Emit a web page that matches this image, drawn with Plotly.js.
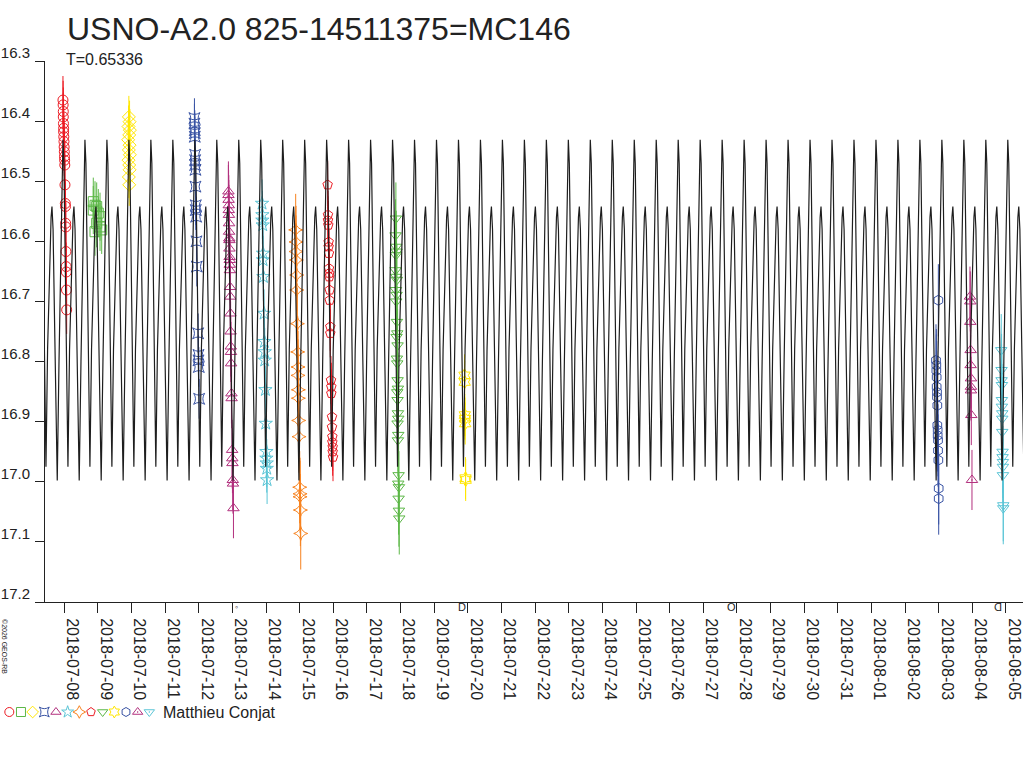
<!DOCTYPE html>
<html><head><meta charset="utf-8">
<script src="https://cdn.plot.ly/plotly-3.0.1.min.js"></script>
<style>html,body{margin:0;padding:0;background:#fff;overflow:hidden}#chart{width:1024px;height:768px}</style>
</head><body><div id="chart"></div>
<script>
// ---- data (x in days since 2018-07-08 00:00 UT) ----
const chartTitle = 'USNO-A2.0 825-14511375=MC146';
const periodLabel = 'T=0.65336';
const observer = 'Matthieu Conjat';
const tickLabels = ['2018-07-08','2018-07-09','2018-07-10','2018-07-11','2018-07-12','2018-07-13','2018-07-14','2018-07-15','2018-07-16','2018-07-17','2018-07-18','2018-07-19','2018-07-20','2018-07-21','2018-07-22','2018-07-23','2018-07-24','2018-07-25','2018-07-26','2018-07-27','2018-07-28','2018-07-29','2018-07-30','2018-07-31','2018-08-01','2018-08-02','2018-08-03','2018-08-04','2018-08-05'];
const magTicks = [16.3,16.4,16.5,16.6,16.7,16.8,16.9,17.0,17.1,17.2];

const period = 0.65336;
const epochMax = -0.04;
const templatePhase = [0.000,0.045,0.100,0.160,0.227,0.300,0.400,0.460,0.500,0.550,0.630,0.700,0.740,0.820,0.900,0.955,1.000];
const templateMag   = [16.431,16.47,16.60,16.78,16.975,16.78,16.62,16.56,16.542,16.58,16.76,16.93,16.998,16.80,16.60,16.47,16.431];

const n1Days = [-0.04,-0.035,-0.03,-0.03,-0.025,-0.02,-0.02,-0.015,-0.01,-0.005,0.0,0.005,0.01,0.015,0.02,0.03,0.035,0.04,0.045,0.05,0.055,0.06,0.065,0.07];
const n1Mags = [16.365,16.373,16.384,16.393,16.404,16.412,16.418,16.426,16.434,16.443,16.451,16.459,16.465,16.473,16.506,16.537,16.542,16.570,16.576,16.617,16.642,16.651,16.681,16.714];
const n2Days = [0.862,0.913,0.862,0.963,1.011,1.062,0.963,1.062,1.112,0.913];
const n2Mags = [16.534,16.54,16.548,16.542,16.553,16.559,16.57,16.576,16.581,16.584];
const n3Days = [1.92,1.94,1.91,1.95,1.93,1.90,1.94,1.92,1.95,1.91,1.93,1.94,1.92,1.93];
const n3Mags = [16.393,16.401,16.409,16.415,16.423,16.431,16.44,16.448,16.456,16.465,16.473,16.481,16.493,16.506];
const n4Days = [3.87,3.87,3.88,3.88,3.88,3.89,3.89,3.89,3.90,3.90,3.91,3.91,3.92,3.93,3.94,3.98,3.99,3.99,4.00,4.01];
const n4Mags = [16.395,16.404,16.415,16.42,16.426,16.456,16.465,16.473,16.481,16.509,16.54,16.548,16.559,16.6,16.642,16.753,16.789,16.798,16.809,16.862];
const n5Days = [4.88,4.88,4.885,4.89,4.89,4.895,4.90,4.90,4.905,4.91,4.91,4.915,4.92,4.92,4.925,4.93,4.935,4.94,4.945,4.95,4.955,4.96,4.97,4.975,4.99,4.995,5.0,5.01,5.015,5.03];
const n5Mags = [16.517,16.523,16.531,16.54,16.548,16.556,16.57,16.584,16.595,16.598,16.612,16.626,16.631,16.639,16.648,16.676,16.692,16.72,16.75,16.775,16.784,16.803,16.853,16.861,16.947,16.961,16.969,16.997,17.003,17.044];
const n6Days = [5.88,5.89,5.89,5.90,5.91,5.91,5.92,5.94,5.95,5.96,5.96,5.98,5.99,6.01,6.01,6.02,6.02,6.03];
const n6Mags = [16.537,16.556,16.565,16.573,16.62,16.631,16.659,16.72,16.767,16.784,16.798,16.847,16.903,16.95,16.961,16.969,16.978,16.997];
const n7Days = [6.88,6.89,6.89,6.90,6.91,6.91,6.93,6.94,6.95,6.95,6.96,6.96,6.97,6.98,7.00,7.01,7.01,7.02,7.03];
const n7Mags = [16.581,16.601,16.617,16.631,16.656,16.681,16.737,16.784,16.809,16.823,16.847,16.861,16.898,16.925,17.009,17.02,17.025,17.047,17.086];
const n8Days = [7.83,7.84,7.84,7.85,7.86,7.86,7.87,7.87,7.88,7.88,7.89,7.89,7.91,7.91,7.93,7.94,7.94,7.96,7.96,7.97,7.97,7.98,7.98,7.99];
const n8Mags = [16.506,16.556,16.565,16.573,16.601,16.609,16.62,16.645,16.653,16.659,16.681,16.698,16.742,16.753,16.831,16.842,16.853,16.892,16.909,16.925,16.934,16.942,16.95,16.959];
const n9Days = [9.86,9.85,9.87,9.88,9.86,9.85,9.87,9.89,9.86,9.88,9.87,9.89,9.90,9.88,9.91,9.89,9.90,9.91,9.92,9.90,9.91,9.92,9.93,9.91,9.93,9.92,9.94,9.93,9.95,9.94,9.95,9.96];
const n9Mags = [16.562,16.59,16.609,16.617,16.623,16.648,16.659,16.664,16.681,16.689,16.7,16.734,16.753,16.759,16.773,16.795,16.803,16.831,16.845,16.851,16.864,16.886,16.895,16.903,16.922,16.931,16.989,17.003,17.009,17.028,17.048,17.061];
const n10Days = [11.90,11.905,11.91,11.915,11.92,11.93,11.935];
const n10Mags = [16.823,16.834,16.889,16.895,16.903,16.994,16.997];
const n11Days = [25.99,25.92,25.93,25.93,25.94,25.94,25.95,25.95,25.96,25.96,25.97,25.97,25.98,25.98,25.99,26.0,26.0];
const n11Mags = [16.698,16.798,16.806,16.815,16.826,16.842,16.851,16.859,16.873,16.906,16.914,16.923,16.931,16.948,16.964,17.011,17.028];
const n12Days = [26.93,26.94,26.94,26.95,26.95,26.96,26.96,26.96,26.97,26.99];
const n12Mags = [16.692,16.7,16.734,16.781,16.806,16.828,16.842,16.848,16.889,16.997];
const n13Days = [27.86,27.87,27.87,27.88,27.88,27.88,27.89,27.89,27.89,27.9,27.9,27.91,27.91,27.91,27.92,27.92];
const n13Mags = [16.781,16.814,16.831,16.839,16.864,16.875,16.886,16.895,16.917,16.95,16.959,16.967,16.975,16.989,17.039,17.044];
const nightErrors = [0.04,0.04,0.035,0.033,0.05,0.04,0.06,0.04,0.06,0.035,0.06,0.05,0.06];

const moonDays = [5.117, 11.828, 19.847, 27.763];
const moonGlyphs = ['◦','D','O','D'];
const moonAngles = [0, 0, 0, 180];

// ---- styling ----
const RED='#ec1c24', GREEN='#5db848', YELLOW='#ffe600', BLUE='#3953a4', PURPLE='#b2307e', CYAN='#5bc5d6', ORANGE='#f7821e';
const nightColors = [RED,GREEN,YELLOW,BLUE,PURPLE,CYAN,ORANGE,RED,GREEN,YELLOW,BLUE,PURPLE,CYAN];
const nightSymbols = ['circle-open','square-open','diamond-open','star-square-open','triangle-up-open','star-open','star-diamond-open','pentagon-open','triangle-down-open','hexagram-open','hexagon-open','triangle-up-open-dot','triangle-down-open-dot'];
const nightDays = [n1Days,n2Days,n3Days,n4Days,n5Days,n6Days,n7Days,n8Days,n9Days,n10Days,n11Days,n12Days,n13Days];
const nightMags = [n1Mags,n2Mags,n3Mags,n4Mags,n5Mags,n6Mags,n7Mags,n8Mags,n9Mags,n10Mags,n11Mags,n12Mags,n13Mags];

const W=1024, H=768;
const plotL=45, plotR=1023, plotT=61, plotB=602;
const xMin=-0.574, xMax=28.507;

const traces = [];
nightDays.forEach((d,i)=>{
  traces.push({
    type:'scatter', mode:'markers', x:d, y:nightMags[i], xaxis:'x', yaxis:'y',
    marker:{symbol:nightSymbols[i], size:10, color:nightColors[i], line:{width:1, color:nightColors[i]}},
    error_y:{type:'constant', value:nightErrors[i], visible:true, color:nightColors[i], thickness:1, width:0},
    hoverinfo:'skip'
  });
});

// periodic light curve from the one-period template
const curveX=[], curveY=[];
const kStart=Math.floor((xMin-epochMax)/period)-1, kEnd=Math.ceil((xMax-epochMax)/period)+1;
for(let k=kStart;k<=kEnd;k++){
  for(let j=0;j<templatePhase.length-1;j++){
    curveX.push(epochMax+(k+templatePhase[j])*period);
    curveY.push(templateMag[j]);
  }
}
traces.push({type:'scatter', mode:'lines', x:curveX, y:curveY, xaxis:'x', yaxis:'y',
  line:{color:'#1e1e1e', width:1.2}, hoverinfo:'skip'});

// legend row (pixel overlay axes)
traces.push({type:'scatter', mode:'markers', xaxis:'x2', yaxis:'y2',
  x:nightSymbols.map((s,i)=>9.3+i*11.67), y:nightSymbols.map(()=>712),
  marker:{symbol:nightSymbols, size:9, color:nightColors, line:{width:1, color:nightColors}},
  hoverinfo:'skip', cliponaxis:false});

const annotations = [
  {xref:'x2', yref:'y2', x:64, y:59.5, xanchor:'left', yanchor:'middle', text:periodLabel, showarrow:false, font:{size:16, color:'#222'}},
  {xref:'x2', yref:'y2', x:161, y:712, xanchor:'left', yanchor:'middle', text:observer, showarrow:false, font:{size:16, color:'#222'}},
  {xref:'x2', yref:'y2', x:5, y:646, xanchor:'center', yanchor:'middle', text:'©2026 GEOS-RB', textangle:90, showarrow:false, font:{size:7, color:'#222'}}
];
moonDays.forEach((d,i)=>{
  annotations.push({xref:'x', yref:'y2', x:d, y:607, xanchor:'center', yanchor:'middle', text:moonGlyphs[i], textangle:moonAngles[i], showarrow:false, font:{size:i===0?9:11, color:'#222'}});
});

const layout = {
  width:W, height:H, margin:{l:0,r:0,t:0,b:0,pad:0},
  paper_bgcolor:'#ffffff', plot_bgcolor:'rgba(0,0,0,0)', showlegend:false,
  font:{family:'Liberation Sans, Arial, sans-serif', color:'#222'},
  title:{text:chartTitle, x:67/W, xanchor:'left', xref:'paper', y:1-29/H, yanchor:'middle', yref:'container', font:{size:32, color:'#222'}},
  xaxis:{domain:[plotL/W, plotR/W], range:[xMin,xMax], anchor:'y',
    tickmode:'array', tickvals:tickLabels.map((t,i)=>i), ticktext:tickLabels, tickangle:90,
    ticks:'outside', ticklen:10, tickwidth:1, tickcolor:'#222', showline:true, linecolor:'#222', linewidth:1,
    showgrid:false, zeroline:false, tickfont:{size:16, color:'#222'}, ticklabelshift:8, ticklabelstandoff:2, fixedrange:true},
  yaxis:{domain:[(H-plotB)/H, (H-plotT)/H], range:[17.2,16.3], anchor:'x',
    tickmode:'array', tickvals:magTicks, ticktext:magTicks.map(v=>v.toFixed(1)),
    ticks:'outside', ticklen:9, tickwidth:1, tickcolor:'#222', showline:true, linecolor:'#222', linewidth:1,
    showgrid:false, zeroline:false, tickfont:{size:15, color:'#222'}, ticklabelshift:8, ticklabelstandoff:2, fixedrange:true},
  xaxis2:{domain:[0,1], range:[0,W], anchor:'y2', visible:false, fixedrange:true},
  yaxis2:{domain:[0,1], range:[H,0], anchor:'x2', visible:false, fixedrange:true},
  annotations:annotations
};

Plotly.newPlot('chart', traces, layout, {displayModeBar:false, staticPlot:true});
</script>
</body></html>
